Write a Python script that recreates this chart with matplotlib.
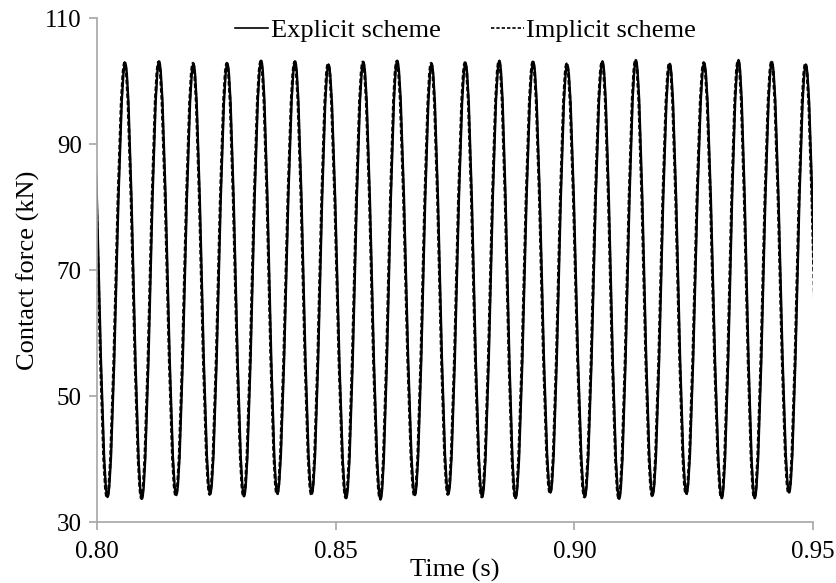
import matplotlib.pyplot as plt
from matplotlib.path import Path
from matplotlib.patches import PathPatch
from matplotlib.lines import Line2D
import numpy as np

# extrema (time in s, force in kN), peaks and troughs alternate
exp_times = [0.7986, 0.8022, 0.8059, 0.8094, 0.8130, 0.8166, 0.8202, 0.8237, 0.8273, 0.8308,
             0.8344, 0.8378, 0.8415, 0.8450, 0.8485, 0.8522, 0.8558, 0.8594, 0.8629, 0.8666,
             0.8701, 0.8736, 0.8772, 0.8807, 0.8843, 0.8877, 0.8914, 0.8950, 0.8985, 0.9022,
             0.9059, 0.9094, 0.9129, 0.9164, 0.9200, 0.9235, 0.9272, 0.9309, 0.9344, 0.9378,
             0.9414, 0.9450, 0.9485, 0.9521]
exp_force = [103.0, 34.0, 102.8, 33.7, 103.1, 34.3, 102.7, 34.5, 102.7, 34.1,
             103.2, 34.5, 103.1, 34.5, 102.6, 33.8, 103.0, 33.6, 103.2, 34.3,
             102.7, 34.5, 102.8, 34.0, 103.2, 33.8, 103.0, 34.7, 102.6, 34.0,
             103.1, 33.7, 103.3, 34.3, 102.7, 34.5, 102.8, 33.8, 103.3, 33.8,
             103.0, 34.7, 102.6, 34.0]

imp_times = [0.7985, 0.8021, 0.8058, 0.8093, 0.8129, 0.8165, 0.8201, 0.8236, 0.8272, 0.8307,
             0.8343, 0.8377, 0.8414, 0.8449, 0.8484, 0.8521, 0.8557, 0.8593, 0.8628, 0.8665,
             0.8700, 0.8735, 0.8771, 0.8806, 0.8842, 0.8876, 0.8913, 0.8949, 0.8984, 0.9021,
             0.9058, 0.9093, 0.9128, 0.9163, 0.9199, 0.9234, 0.9271, 0.9308, 0.9343, 0.9377,
             0.9413, 0.9449, 0.9484, 0.9520]
imp_force = [103.0, 33.9, 102.9, 33.8, 103.0, 34.2, 102.8, 34.4, 102.8, 34.1,
             103.1, 34.4, 103.0, 34.4, 102.7, 33.9, 103.0, 33.7, 103.1, 34.2,
             102.8, 34.4, 102.9, 34.0, 103.1, 33.9, 103.0, 34.6, 102.7, 34.0,
             103.0, 33.8, 103.2, 34.2, 102.8, 34.4, 102.9, 33.9, 103.2, 33.9,
             103.0, 34.6, 102.7, 34.0]

x_ticks = [0.80, 0.85, 0.90, 0.95]
y_ticks = [30, 50, 70, 90, 110]

plt.rcParams['font.family'] = ['Liberation Serif', 'DejaVu Serif']


def smooth_path(ts, vs):
    # cubic bezier between extrema, flat tangents at each extremum
    k = (np.pi - 2) / np.pi
    verts = [(ts[0], vs[0])]
    codes = [Path.MOVETO]
    for i in range(len(ts) - 1):
        dt = ts[i + 1] - ts[i]
        verts += [(ts[i] + k * dt, vs[i]), (ts[i + 1] - k * dt, vs[i + 1]), (ts[i + 1], vs[i + 1])]
        codes += [Path.CURVE4] * 3
    return Path(verts, codes)


fig = plt.figure(figsize=(8.37, 5.83), dpi=100)
ax = fig.add_axes([0.1159, 0.1046, 0.8554, 0.8645])

ax.add_patch(PathPatch(smooth_path(exp_times, exp_force), fill=False,
                       edgecolor='black', linewidth=1.7))
ax.add_patch(PathPatch(smooth_path(imp_times, imp_force), fill=False,
                       edgecolor='black', linewidth=2.0, linestyle=(0, (1.6, 0.9))))

ax.set_xlim(0.80, 0.95)
ax.set_ylim(30, 110)
ax.set_xticks(x_ticks)
ax.set_xticklabels(['%.2f' % v for v in x_ticks])
ax.set_yticks(y_ticks)

for s in ['top', 'right']:
    ax.spines[s].set_visible(False)
for s in ['left', 'bottom']:
    ax.spines[s].set_color('#a6a6a6')
    ax.spines[s].set_linewidth(1.2)
ax.tick_params(direction='out', length=6, width=1.2, color='#a6a6a6',
               labelsize=18, labelcolor='black')
ax.tick_params(axis='x', pad=8)
ax.tick_params(axis='y', pad=5)

ax.set_xlabel('Time (s)', fontsize=19, labelpad=-3)
ax.set_ylabel('Contact force (kN)', fontsize=19, labelpad=4)

handles = [Line2D([], [], color='black', linewidth=1.2),
           Line2D([], [], color='black', linewidth=1.2, linestyle=(0, (2, 1.2)))]
ax.legend(handles, ['Explicit scheme', 'Implicit scheme'], loc='center',
          bbox_to_anchor=(0.515, 0.976), ncol=2, frameon=False, fontsize=19,
          handlelength=1.25, handletextpad=0.1, columnspacing=1.9, borderaxespad=0)

fig.savefig('out.png', dpi=100)
